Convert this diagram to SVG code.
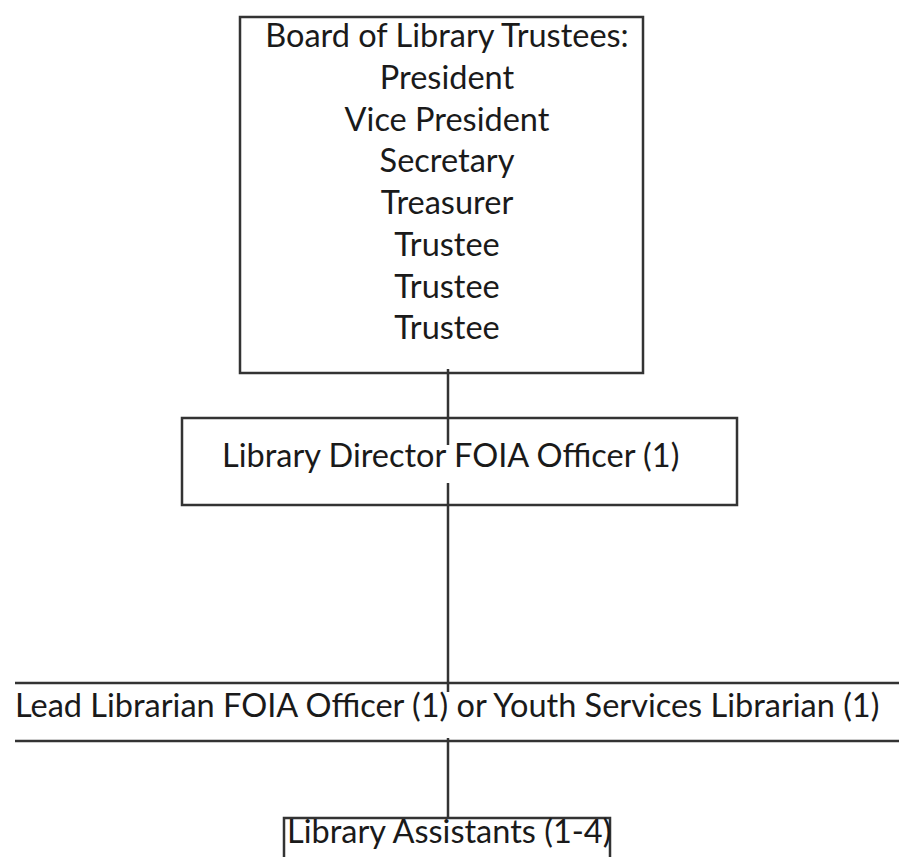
<svg xmlns="http://www.w3.org/2000/svg" width="899" height="857" viewBox="0 0 899 857">
<style>
.box{fill:#fff;stroke:#333;stroke-width:2.5}
.ln{stroke:#333;stroke-width:2.5;fill:none}
text{font-family:Lato,"Liberation Sans",sans-serif;font-size:32.5px;fill:#1a1a1a}
.c{text-anchor:middle}
</style>
<rect width="899" height="857" fill="#fff"/>
<g id="board">
<rect class="box" x="240" y="17" width="403" height="356"/>
<text class="c" x="447" y="47">Board of Library Trustees:</text>
<text class="c" x="447" y="89">President</text>
<text class="c" x="447" y="131">Vice President</text>
<text class="c" x="447" y="172">Secretary</text>
<text class="c" x="447" y="214">Treasurer</text>
<text class="c" x="447" y="256">Trustee</text>
<text class="c" x="447" y="298">Trustee</text>
<text class="c" x="447" y="339">Trustee</text>
</g>
<g id="director">
<rect class="box" x="182" y="418" width="555" height="87"/>
<text x="222" y="467">Library Director FOIA Officer (1)</text>
</g>
<g id="lead">
<line class="ln" x1="15" y1="683" x2="899" y2="683"/>
<line class="ln" x1="15" y1="741" x2="899" y2="741"/>
<text x="15" y="717">Lead Librarian FOIA Officer (1) or Youth Services Librarian (1)</text>
</g>
<g id="assistants">
<path class="ln" d="M284 857V818H610V857"/>
<text x="287" y="843">Library Assistants (1-4)</text>
</g>
<g id="connectors">
<line class="ln" x1="448" y1="369" x2="448" y2="445"/>
<line class="ln" x1="448" y1="483" x2="448" y2="692"/>
<line class="ln" x1="448" y1="738" x2="448" y2="817"/>
</g>
</svg>
